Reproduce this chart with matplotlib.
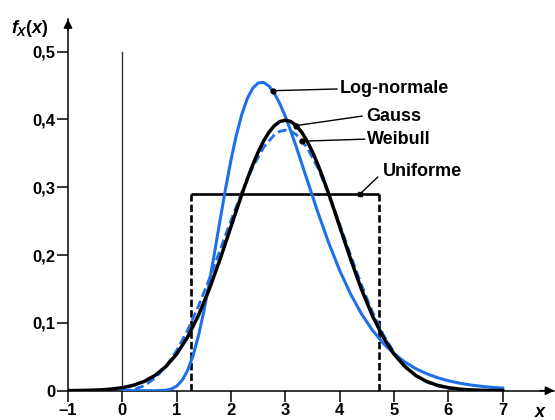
import matplotlib
matplotlib.use('Agg')
import matplotlib.pyplot as plt

plt.rcParams['font.family'] = 'Liberation Sans'
plt.rcParams['font.weight'] = 'bold'
plt.rcParams['mathtext.fontset'] = 'custom'
plt.rcParams['mathtext.it'] = 'Liberation Sans:italic:bold'
plt.rcParams['mathtext.rm'] = 'Liberation Sans:bold'

# densities (mean 3, std 1)
x_gauss = [-1.0, -0.8, -0.6, -0.4, -0.2, 0.0, 0.2, 0.4, 0.6, 0.8, 1.0, 1.2, 1.4, 1.6, 1.8,
           2.0, 2.1, 2.2, 2.3, 2.4, 2.5, 2.6, 2.7, 2.8, 2.9, 3.0, 3.1, 3.2, 3.3, 3.4,
           3.5, 3.6, 3.7, 3.8, 3.9, 4.0, 4.2, 4.4, 4.6, 4.8,
           5.0, 5.2, 5.4, 5.6, 5.8, 6.0, 6.2, 6.4, 6.6, 6.8, 7.0]
y_gauss = [0.0001, 0.0003, 0.0006, 0.0012, 0.0024, 0.0044, 0.0079, 0.0136, 0.0224, 0.0355,
           0.0540, 0.0790, 0.1109, 0.1497, 0.1942,
           0.2420, 0.2661, 0.2897, 0.3123, 0.3332, 0.3521, 0.3683, 0.3814, 0.3910, 0.3970,
           0.3989, 0.3970, 0.3910, 0.3814, 0.3683, 0.3521, 0.3332, 0.3123, 0.2897, 0.2661,
           0.2420, 0.1942, 0.1497, 0.1109, 0.0790,
           0.0540, 0.0355, 0.0224, 0.0136, 0.0079, 0.0044, 0.0024, 0.0012, 0.0006, 0.0003, 0.0001]

x_lognorm = [0.0, 0.6, 0.8, 0.9, 1.0, 1.1, 1.2, 1.3, 1.4, 1.5, 1.6, 1.7, 1.8, 1.9, 2.0,
             2.1, 2.2, 2.3, 2.4, 2.5, 2.6, 2.7, 2.8, 2.9, 3.0, 3.1, 3.2,
             3.4, 3.6, 3.8, 4.0, 4.2, 4.4, 4.6, 4.8, 5.0, 5.2, 5.4, 5.6, 5.8, 6.0,
             6.2, 6.4, 6.6, 6.8, 7.0]
y_lognorm = [0.0, 0.0, 0.0007, 0.0025, 0.0068, 0.0153, 0.0297, 0.0513, 0.0806, 0.1170,
             0.1592, 0.2051, 0.2522, 0.2981, 0.3405,
             0.3775, 0.4079, 0.4309, 0.4461, 0.4539, 0.4547, 0.4492, 0.4384, 0.4231, 0.4043,
             0.3829, 0.3598, 0.3111, 0.2627, 0.2175, 0.1773,
             0.1426, 0.1135, 0.0895, 0.0700, 0.0545, 0.0422, 0.0325, 0.0250, 0.0191,
             0.0146, 0.0112, 0.0085, 0.0065, 0.0049, 0.0038]

x_weibull = [0.0, 0.2, 0.4, 0.6, 0.8, 1.0, 1.2, 1.4, 1.6, 1.8, 2.0, 2.2, 2.4, 2.6, 2.8,
             2.9, 3.0, 3.1, 3.2, 3.4, 3.6, 3.8, 4.0, 4.2, 4.4, 4.6, 4.8, 5.0, 5.2, 5.4, 5.6,
             5.8, 6.0, 6.2, 6.4, 6.6, 6.8, 7.0]
y_weibull = [0.0, 0.0014, 0.0072, 0.0184, 0.0356, 0.0592, 0.0891, 0.1246, 0.1647, 0.2076,
             0.2513, 0.2930, 0.3298, 0.3589, 0.3777, 0.3826, 0.3843, 0.3827, 0.3778, 0.3587,
             0.3284, 0.2896, 0.2456, 0.2000, 0.1561, 0.1165, 0.0830, 0.0564, 0.0364, 0.0223,
             0.0129, 0.0071, 0.0036, 0.0018, 0.0008, 0.0003, 0.0001, 0.0]

unif_low, unif_high, unif_height = 1.27, 4.73, 0.29

xticks = [-1, 0, 1, 2, 3, 4, 5, 6, 7]
xtick_labels = ['\u20131', '0', '1', '2', '3', '4', '5', '6', '7']
yticks = [0, 0.1, 0.2, 0.3, 0.4, 0.5]
ytick_labels = ['0', '0,1', '0,2', '0,3', '0,4', '0,5']

blue = '#1f6fe8'

fig = plt.figure(figsize=(5.55, 4.2), dpi=100)
ax = fig.add_axes([0.1225, 0.0698, 0.8763, 0.8846])
ax.set_xlim(-1, 7.95)
ax.set_ylim(0, 0.548)

# thin vertical line at x = 0
ax.plot([0, 0], [0, 0.5], color='#333333', lw=1.0, zorder=1)

# uniform: solid top, dashed sides
ax.plot([unif_low, unif_high], [unif_height, unif_height], color='black', lw=1.9,
        solid_capstyle='butt', zorder=2)
ax.plot([unif_low, unif_low], [0, unif_height], color='black', lw=1.9, ls=(0, (2.8, 1.2)), zorder=2)
ax.plot([unif_high, unif_high], [0, unif_height], color='black', lw=1.9, ls=(0, (2.8, 1.2)), zorder=2)

ax.plot(x_weibull, y_weibull, color=blue, lw=2.0, ls=(0, (3.2, 1.5)), zorder=3)
ax.plot(x_lognorm, y_lognorm, color=blue, lw=2.2, zorder=4)
ax.plot(x_gauss, y_gauss, color='black', lw=2.5, zorder=5)

# leader lines and labels
def leader(pt, end, txt_pos, label, marker='o'):
    ax.plot([pt[0], end[0]], [pt[1], end[1]], color='black', lw=1.0, zorder=6)
    ax.plot(pt[0], pt[1], marker=marker, color='black', ms=3.5, zorder=7)
    ax.text(txt_pos[0], txt_pos[1], label, fontsize=13, fontweight='bold',
            va='center', ha='left', zorder=7)

leader((2.78, 0.4425), (3.95, 0.445), (4.0, 0.445), 'Log-normale')
leader((3.2, 0.391), (4.41, 0.405), (4.48, 0.405), 'Gauss')
leader((3.31, 0.368), (4.46, 0.371), (4.50, 0.371), 'Weibull')
leader((4.37, 0.29), (4.70, 0.315), (4.80, 0.323), 'Uniforme', marker='s')

for s in ['top', 'right']:
    ax.spines[s].set_visible(False)
for s in ['left', 'bottom']:
    ax.spines[s].set_linewidth(1.1)

ax.annotate('', xy=(1.0, 0), xytext=(0.97, 0), xycoords=('axes fraction', 'data'),
            arrowprops=dict(arrowstyle='-|>', color='black', lw=1.1, mutation_scale=13,
                            shrinkA=0, shrinkB=0))
ax.annotate('', xy=(-1, 1.0), xytext=(-1, 0.97), xycoords=('data', 'axes fraction'),
            arrowprops=dict(arrowstyle='-|>', color='black', lw=1.1, mutation_scale=13,
                            shrinkA=0, shrinkB=0))

ax.set_xticks(xticks)
ax.set_xticklabels(xtick_labels)
ax.set_yticks(yticks)
ax.set_yticklabels(ytick_labels)
ax.tick_params(direction='out', length=8, width=1.1, labelsize=12, pad=1)

fig.text(0.02, 0.932, r'$f_X(x)$', fontsize=13, va='center', ha='left')
fig.text(0.975, 0.018, r'$x$', fontsize=13, va='center', ha='center')

fig.savefig('out.png', dpi=100)
